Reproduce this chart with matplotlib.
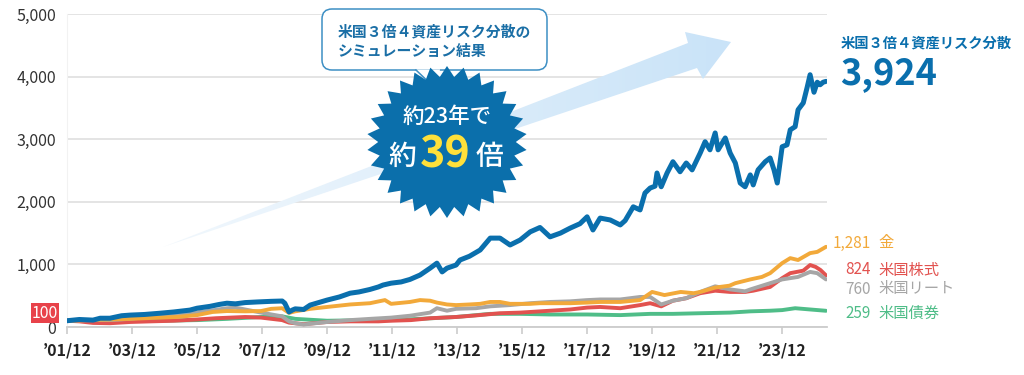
import numpy as np
import matplotlib
matplotlib.use('Agg')
import matplotlib.pyplot as plt
from matplotlib.patches import Polygon, FancyBboxPatch

plt.rcParams['font.family'] = ['Noto Sans CJK JP', 'DejaVu Sans']

# ---- data (decimal year, index value; 2001/12 = 100) ----
blue_year = [2001.92, 2002.3, 2002.72, 2002.94, 2003.24, 2003.6, 2003.86, 2004.3, 2004.78, 2005.2,
             2005.7, 2005.92, 2006.32, 2006.6, 2006.84, 2007.1, 2007.4, 2007.77, 2008.2, 2008.54,
             2008.62, 2008.75, 2008.85, 2008.94, 2009.2, 2009.4, 2009.92, 2010.3, 2010.63, 2010.9,
             2011.24, 2011.5, 2011.64, 2011.89, 2012.2, 2012.47, 2012.78, 2013.09, 2013.3, 2013.46,
             2013.61, 2013.89, 2014.01, 2014.3, 2014.63, 2014.94, 2015.24, 2015.55, 2015.86, 2016.17,
             2016.47, 2016.78, 2017.1, 2017.4, 2017.7, 2017.92, 2018.1, 2018.32, 2018.63, 2018.94,
             2019.09, 2019.34, 2019.55, 2019.7, 2019.86, 2020.01, 2020.07, 2020.2, 2020.38, 2020.56,
             2020.78, 2020.97, 2021.15, 2021.4, 2021.55, 2021.7, 2021.86, 2021.95, 2022.17, 2022.32,
             2022.48, 2022.63, 2022.78, 2022.94, 2023.03, 2023.18, 2023.4, 2023.55, 2023.67, 2023.77,
             2023.92, 2024.07, 2024.17, 2024.32, 2024.41, 2024.57, 2024.69, 2024.78, 2024.9, 2025.0,
             2025.09, 2025.18, 2025.27]
blue_val = [100, 120, 110, 140, 140, 180, 190, 200, 220, 240,
            270, 300, 330, 360, 380, 370, 390, 400, 410, 415,
            380, 240, 270, 290, 280, 350, 430, 480, 540, 560,
            600, 640, 670, 700, 720, 760, 830, 940, 1020, 880,
            940, 990, 1070, 1130, 1230, 1420, 1420, 1310, 1390, 1520,
            1590, 1440, 1500, 1580, 1650, 1760, 1550, 1740, 1710, 1630,
            1700, 1920, 1870, 2140, 2220, 2250, 2460, 2240, 2460, 2640,
            2480, 2620, 2510, 2780, 2960, 2830, 3100, 2830, 3020, 2780,
            2620, 2300, 2240, 2430, 2270, 2510, 2640, 2700, 2510, 2300,
            2880, 2910, 3150, 3200, 3470, 3580, 3830, 4030, 3750, 3910,
            3870, 3910, 3924]

gold_year = [2001.92, 2002.5, 2003.24, 2003.86, 2004.78, 2005.3, 2005.92, 2006.4, 2006.84, 2007.4,
             2007.89, 2008.2, 2008.54, 2008.75, 2008.94, 2009.4, 2009.92, 2010.63, 2011.24, 2011.7,
             2011.89, 2012.47, 2012.78, 2013.09, 2013.3, 2013.61, 2013.89, 2014.3, 2014.63, 2014.94,
             2015.24, 2015.55, 2016.17, 2016.47, 2017.4, 2017.92, 2018.32, 2018.94, 2019.55, 2019.92,
             2020.3, 2020.8, 2021.2, 2021.4, 2021.86, 2022.3, 2022.48, 2022.94, 2023.3, 2023.55,
             2023.92, 2024.17, 2024.41, 2024.78, 2025.0, 2025.27]
gold_val = [100, 110, 120, 130, 150, 160, 190, 240, 255, 250,
            255, 290, 300, 225, 250, 290, 320, 360, 380, 430,
            370, 400, 430, 420, 390, 360, 350, 360, 370, 400,
            400, 370, 370, 380, 380, 390, 400, 400, 430, 560,
            510, 560, 540, 560, 630, 660, 700, 760, 800, 860,
            1020, 1100, 1070, 1180, 1200, 1281]

red_year = [2001.92, 2002.3, 2002.72, 2003.24, 2003.86, 2004.5, 2005.2, 2005.92, 2006.5, 2007.4,
            2007.89, 2008.54, 2008.75, 2009.2, 2009.92, 2010.63, 2011.5, 2011.89, 2012.5, 2013.09,
            2013.89, 2014.5, 2015.24, 2015.86, 2016.47, 2017.4, 2017.92, 2018.32, 2018.94, 2019.55,
            2019.86, 2020.2, 2020.56, 2020.97, 2021.4, 2021.86, 2022.32, 2022.78, 2023.03, 2023.55,
            2023.92, 2024.17, 2024.57, 2024.78, 2024.95, 2025.1, 2025.27]
red_val = [100, 90, 65, 60, 80, 90, 100, 120, 140, 160,
           150, 110, 70, 45, 80, 90, 90, 100, 110, 140,
           160, 185, 220, 230, 250, 280, 310, 320, 300, 350,
           380, 330, 420, 460, 540, 580, 560, 560, 580, 640,
           780, 860, 900, 990, 960, 910, 824]

gray_year = [2001.92, 2002.72, 2003.24, 2003.86, 2004.78, 2005.7, 2006.32, 2006.84, 2007.1, 2007.4,
             2007.89, 2008.54, 2008.75, 2008.94, 2009.2, 2009.92, 2010.63, 2011.24, 2011.89, 2012.47,
             2013.09, 2013.3, 2013.61, 2013.89, 2014.5, 2014.94, 2015.55, 2016.17, 2016.78, 2017.4,
             2017.92, 2018.32, 2018.94, 2019.55, 2019.86, 2020.2, 2020.56, 2020.97, 2021.4, 2021.86,
             2022.32, 2022.78, 2022.94, 2023.55, 2023.92, 2024.41, 2024.78, 2025.0, 2025.27]
gray_val = [100, 110, 110, 130, 180, 220, 260, 300, 310, 280,
            230, 170, 90, 60, 40, 80, 110, 130, 150, 180,
            230, 300, 260, 290, 300, 330, 350, 380, 400, 410,
            430, 440, 440, 480, 480, 360, 420, 460, 560, 650,
            600, 570, 600, 700, 760, 800, 880, 860, 760]

green_year = [2001.92, 2003.24, 2004.78, 2005.92, 2006.84, 2007.89, 2008.54, 2008.94, 2009.92, 2010.63,
              2011.89, 2012.78, 2013.89, 2014.94, 2015.86, 2016.78, 2017.92, 2018.94, 2019.86, 2020.56,
              2021.4, 2022.32, 2022.94, 2023.55, 2023.92, 2024.32, 2024.78, 2025.27]
green_val = [100, 95, 100, 110, 130, 160, 170, 130, 100, 105,
             110, 130, 160, 210, 210, 200, 200, 190, 210, 210,
             220, 230, 250, 260, 270, 300, 280, 259]

tick_years = [2001.92 + 2 * k for k in range(12)]
tick_labels = ['’01/12', '’03/12', '’05/12', '’07/12', '’09/12', '’11/12',
               '’13/12', '’15/12', '’17/12', '’19/12', '’21/12', '’23/12']
y_ticks = [0, 1000, 2000, 3000, 4000, 5000]

end_values = ['1,281', '824', '760', '259']
end_names = ['金', '米国株式', '米国リート', '米国債券']

BLUE = '#0a6fad'
GOLD = '#f2a93a'
RED = '#e2524f'
GRAY = '#a6a6a6'
GREEN = '#4fbd88'

fig = plt.figure(figsize=(10.24, 3.75), dpi=100)
ax = fig.add_axes([67 / 1024, 1 - 327 / 375, 760 / 1024, 313 / 375])

ax.plot(green_year, green_val, color=GREEN, lw=2.8, solid_joinstyle='round', solid_capstyle='round', zorder=3)
ax.plot(red_year, red_val, color=RED, lw=2.8, solid_joinstyle='round', solid_capstyle='round', zorder=4)
ax.plot(gray_year, gray_val, color=GRAY, lw=2.8, solid_joinstyle='round', solid_capstyle='round', zorder=5)
ax.plot(gold_year, gold_val, color=GOLD, lw=2.8, solid_joinstyle='round', solid_capstyle='round', zorder=6)
ax.plot(blue_year, blue_val, color=BLUE, lw=3.6, solid_joinstyle='round', solid_capstyle='round', zorder=7)

ax.set_xlim(2001.92, 2025.3)
ax.set_ylim(0, 5000)
ax.set_yticks(y_ticks)
ax.set_yticklabels([f'{v:,}' for v in y_ticks], fontsize=11.5, color='#333333')
ax.set_xticks(tick_years)
ax.set_xticklabels(tick_labels, fontsize=11.5, fontweight='bold', color='#222222')
ax.tick_params(axis='y', length=0, pad=8)
ax.tick_params(axis='x', length=5, width=1.2, color='#cccccc', pad=6)

ax.grid(axis='y', color='#e2e2e2', lw=1.3)
ax.set_axisbelow(True)
for s in ['top', 'right']:
    ax.spines[s].set_visible(False)
ax.spines['left'].set_color('#f2f2f2')
ax.spines['bottom'].set_color('#cccccc')
ax.spines['bottom'].set_linewidth(1.3)

# ---- overlay in pixel coordinates for annotations ----
ov = fig.add_axes([0, 0, 1, 1], zorder=10)
ov.set_xlim(0, 1024)
ov.set_ylim(375, 0)
ov.axis('off')

# red "100" marker
ov.text(45, 313, '100', fontsize=11.5, color='white', ha='center', va='center',
        bbox=dict(boxstyle='square,pad=0.08', fc='#e8424a', ec='none'))

# big light-blue arrow with gradient
arrow_pts = [(163, 247), (688, 43), (685, 32), (731, 42), (703, 79), (697, 68)]
arrow = Polygon(arrow_pts, closed=True, fc='none', ec='none')
ov.add_patch(arrow)
grad = np.linspace(0, 1, 256).reshape(1, -1)
cmap = matplotlib.colors.LinearSegmentedColormap.from_list('arr', ['#f2f8fd', '#c9e3f8'])
im = ov.imshow(grad, extent=[160, 735, 250, 28], cmap=cmap, aspect='auto', zorder=1)
im.set_clip_path(arrow)
ov.set_xlim(0, 1024)
ov.set_ylim(375, 0)

# callout box
box = FancyBboxPatch((322, 9), 225, 61, boxstyle='round,pad=0,rounding_size=10',
                     fc='white', ec='#3d8fc4', lw=1.1, zorder=3)
ov.add_patch(box)
ov.add_patch(Polygon([(416, 69.4), (440, 69.4), (437, 90)], closed=True, fc='white', ec='none', zorder=3.5))
ov.plot([416, 437], [70, 90], color='#3d8fc4', lw=1.1, zorder=3.6)
ov.text(338, 31, '米国３倍４資産リスク分散の', fontsize=10.7, fontweight='bold', color='#1b6fa6',
        ha='left', va='center', zorder=4)
ov.text(338, 51, 'シミュレーション結果', fontsize=10.7, fontweight='bold', color='#1b6fa6',
        ha='left', va='center', zorder=4)

# starburst badge
n_spikes = 30
ang = np.linspace(-np.pi / 2, 1.5 * np.pi, 2 * n_spikes, endpoint=False)
rad = np.where(np.arange(2 * n_spikes) % 2 == 0, 1.0, 0.86)
cx, cy, rx, ry = 447, 142, 80, 76
star = np.column_stack([cx + rx * rad * np.cos(ang), cy + ry * rad * np.sin(ang)])
ov.add_patch(Polygon(star, closed=True, fc='#0b6fab', ec='none', zorder=5))
ov.text(447, 117, '約23年で', fontsize=15.5, fontweight='medium', color='white', ha='center', va='center', zorder=6)
ov.text(416, 165, '約', fontsize=20, fontweight='medium', color='white', ha='right', va='baseline', zorder=6)
ov.text(445, 168, '39', fontsize=31, fontweight='bold', color='#ffe03a',
        ha='center', va='baseline', zorder=6)
ov.text(476, 165, '倍', fontsize=20, fontweight='medium', color='white', ha='left', va='baseline', zorder=6)

# right-side labels
ov.text(841, 44, '米国３倍４資産リスク分散', fontsize=10.3, fontweight='bold', color=BLUE,
        ha='left', va='center')
ov.text(840, 74, '3,924', fontsize=26, fontweight='bold', color=BLUE,
        ha='left', va='center')

end_colors = [GOLD, RED, GRAY, GREEN]
end_y = [243, 270, 289, 313]
for v, n, c, y in zip(end_values, end_names, end_colors, end_y):
    ov.text(871, y, v, fontsize=11, color=c, ha='right', va='center')
    ov.text(878, y, n, fontsize=11, color=c, ha='left', va='center')

fig.savefig('out.png', dpi=100)
